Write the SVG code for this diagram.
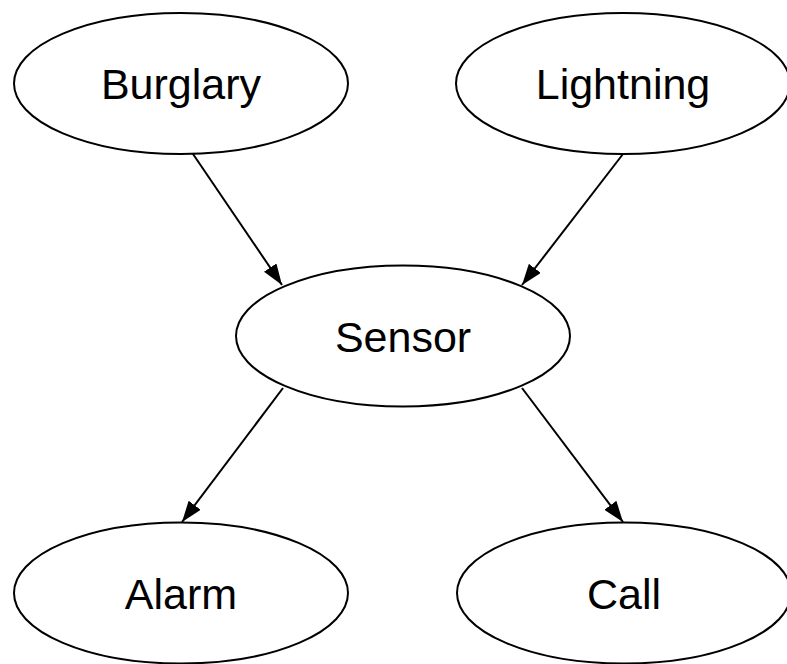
<svg xmlns="http://www.w3.org/2000/svg" width="787" height="664" viewBox="0 0 787 664">
<style>
.node ellipse{fill:#fff;stroke:#000;stroke-width:2}
.node text{font-family:"Liberation Sans",Arial,Helvetica,sans-serif;font-size:43px;fill:#000;text-anchor:middle}
.edge{stroke:#000;stroke-width:2;fill:none;marker-end:url(#ah)}
</style>
<defs>
<marker id="ah" markerUnits="userSpaceOnUse" viewBox="0 0 21 15" refX="21" refY="7.5" markerWidth="21" markerHeight="15" orient="auto">
<path d="M0,0 L21,7.5 L0,15 Z" fill="#000"/>
</marker>
</defs>
<rect width="787" height="664" fill="#fff"/>
<g id="connectors">
<line class="edge" x1="193" y1="154" x2="282" y2="285"/>
<line class="edge" x1="623" y1="154" x2="522" y2="285"/>
<line class="edge" x1="283" y1="388" x2="182" y2="522"/>
<line class="edge" x1="522" y1="388" x2="623" y2="522"/>
</g>
<g id="burglary" class="node"><ellipse cx="181" cy="83.5" rx="167" ry="70.5"/><text x="181" y="99">Burglary</text></g>
<g id="lightning" class="node"><ellipse cx="623" cy="83.5" rx="167" ry="70.5"/><text x="623" y="99">Lightning</text></g>
<g id="sensor" class="node"><ellipse cx="403" cy="336" rx="167" ry="70.5"/><text x="403" y="352">Sensor</text></g>
<g id="alarm" class="node"><ellipse cx="181" cy="593" rx="167" ry="70.5"/><text x="181" y="609">Alarm</text></g>
<g id="call" class="node"><ellipse cx="624" cy="593" rx="167" ry="70.5"/><text x="624" y="609">Call</text></g>
</svg>
